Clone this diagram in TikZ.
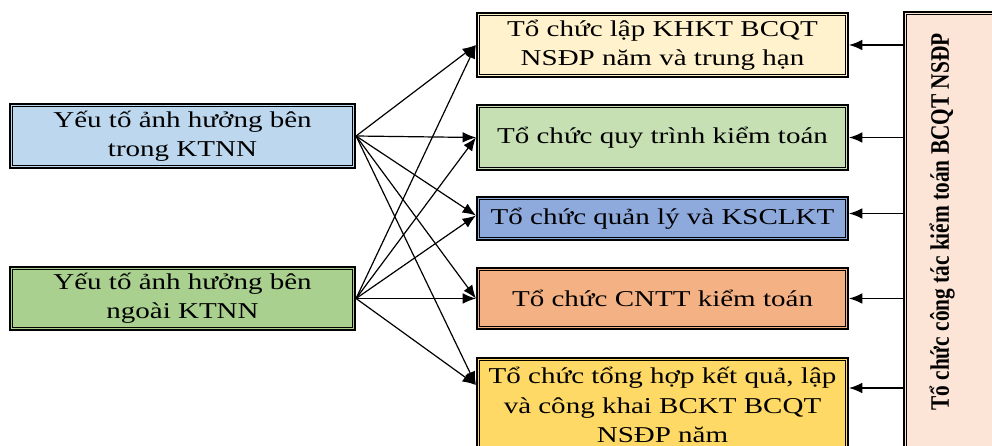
\documentclass[tikz,border=0pt]{standalone}
\usepackage{graphicx}
\usepackage{fontspec}
\setmainfont{Liberation Serif}[FakeStretch=1.28]
\newfontfamily\plainserif{Liberation Serif}
\usetikzlibrary{arrows.meta,calc}
\definecolor{cL1}{HTML}{BDD7EE}
\definecolor{cL2}{HTML}{A9D08E}
\definecolor{cR1}{HTML}{FFF2CC}
\definecolor{cR2}{HTML}{C6E0B4}
\definecolor{cR3}{HTML}{8EA9DB}
\definecolor{cR4}{HTML}{F4B183}
\definecolor{cR5}{HTML}{FFD966}
\definecolor{cT}{HTML}{FCE4D6}
\tikzset{
  box/.style={draw=black, line width=1.6pt, fill=#1, inner sep=0pt, align=center,
    font=\fontsize{17}{22}\selectfont, text=black},
  arr/.style={-{Latex[length=10pt,width=8pt]}, line width=0.9pt},
  innerline/.style={line width=0.75pt}
}
\begin{document}
\begin{tikzpicture}[x=0.75pt,y=-0.75pt]
\useasboundingbox (0,0) rectangle (992,446);
\clip (0,0) rectangle (992,446);
% left boxes
\node[box=cL1, minimum width=345*0.75pt, minimum height=64*0.75pt] (L1) at (182.5,136) {Yếu tố ảnh hưởng bên\\trong KTNN};
\node[box=cL2, minimum width=345*0.75pt, minimum height=63*0.75pt] (L2) at (182.5,298.5) {Yếu tố ảnh hưởng bên\\ngoài KTNN};
% right boxes
\node[box=cR1, minimum width=371*0.75pt, minimum height=64*0.75pt] (R1) at (662.5,45) {Tổ chức lập KHKT BCQT\\NSĐP năm và trung hạn};
\node[box=cR2, minimum width=371*0.75pt, minimum height=65*0.75pt] (R2) at (662.5,137.5) {Tổ chức quy trình kiểm toán};
\node[box=cR3, minimum width=371*0.75pt, minimum height=43*0.75pt] (R3) at (662.5,218.5) {Tổ chức quản lý và KSCLKT};
\node[box=cR4, minimum width=371*0.75pt, minimum height=61*0.75pt] (R4) at (662.5,298.5) {Tổ chức CNTT kiểm toán};
\node[box=cR5, minimum width=371*0.75pt, minimum height=94*0.75pt] (R5) at (662.5,405) {Tổ chức tổng hợp kết quả, lập\\và công khai BCKT BCQT\\NSĐP năm};
% tall box
\node[box=cT, minimum width=96*0.75pt, minimum height=448*0.75pt] (T) at (952,236) {};
\node[rotate=90, inner sep=0pt] (TL) at (942,222) {\scalebox{1}[1.25]{\plainserif\bfseries\fontsize{16}{20}\selectfont Tổ chức công tác kiểm toán BCQT NSĐP}};
% inner lines
\foreach \n in {L1,L2,R1,R2,R3,R4,R5,T}
  \draw[innerline] ([shift={(3.6,3.6)}]\n.north west) rectangle ([shift={(-3.6,-3.6)}]\n.south east);
% right-side arrows
\coordinate (r3a) at ([yshift=3.75pt]R3.east);
\coordinate (r5a) at ([yshift=12.75pt]R5.east);
\draw[arr] (T.west |- R1.east) -- (R1.east);
\draw[arr] (T.west |- R2.east) -- (R2.east);
\draw[arr] (T.west |- r3a) -- (r3a);
\draw[arr] (T.west |- R4.east) -- (R4.east);
\draw[arr] (T.west |- r5a) -- (r5a);
% left-side arrows
\coordinate (r3b) at ([yshift=2.25pt]R3.west);
\coordinate (r5b) at ([yshift=15pt]R5.west);
\foreach \s in {L1,L2}{
  \draw[arr] (\s.east) -- (R1.west);
  \draw[arr] (\s.east) -- (R2.west);
  \draw[arr] (\s.east) -- (r3b);
  \draw[arr] (\s.east) -- (R4.west);
  \draw[arr] (\s.east) -- (r5b);
}
\end{tikzpicture}
\end{document}
